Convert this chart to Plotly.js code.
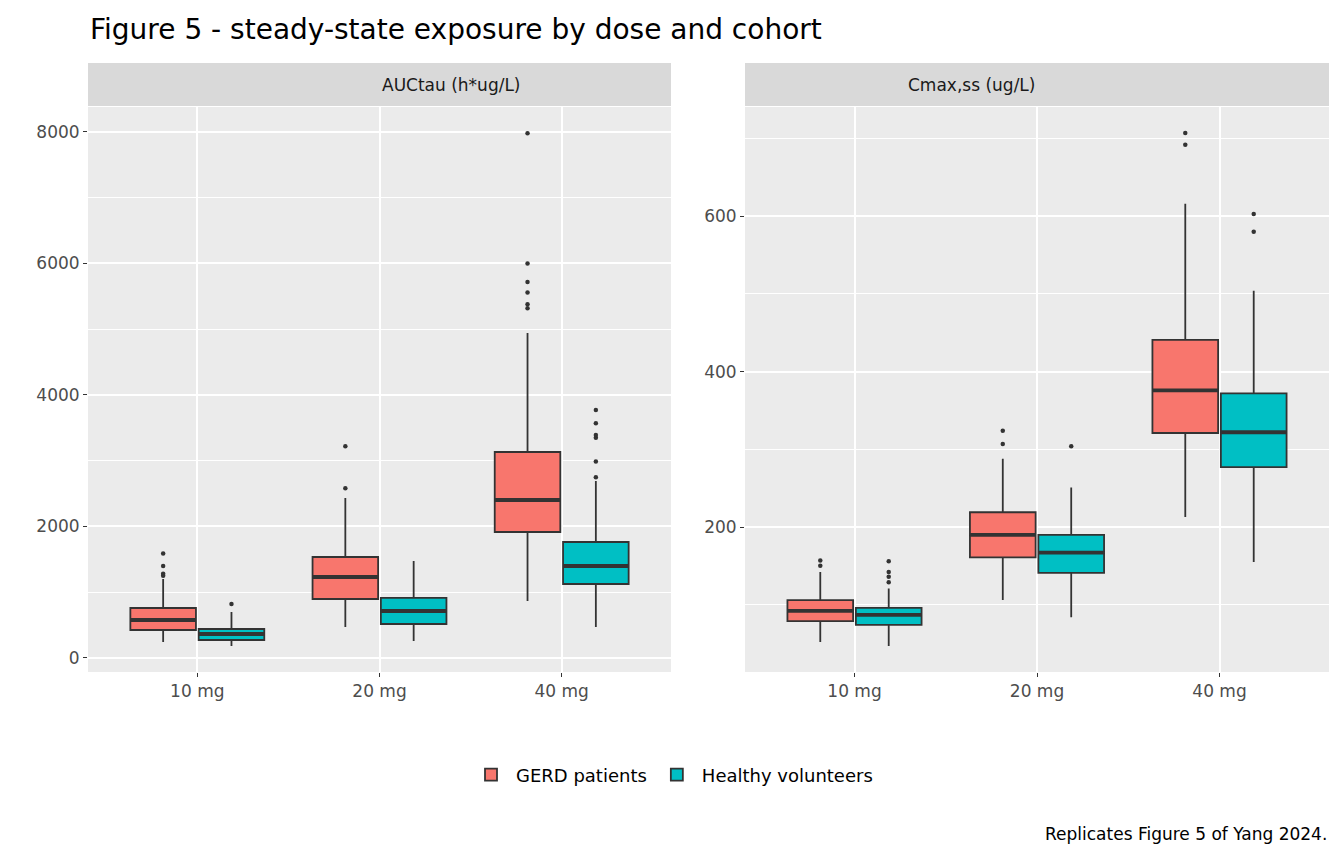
<!DOCTYPE html>
<html><head><meta charset="utf-8">
<script src="https://cdn.plot.ly/plotly-3.0.1.min.js"></script>
<style>body{margin:0}</style></head><body>
<div id="plot" style="width:1344px;height:864px"></div>
<script>
const doses = ["10 mg","20 mg","40 mg"];
const groups = ["GERD patients","Healthy volunteers"];
const colors = ["#F8766D","#00BFC4"];
// AUCtau
const aucGERD = {lo:[243,471,867], q1:[426,897,1916], med:[578,1232,2403], q3:[760,1536,3133], hi:[1200,2433,4943]};
const aucHV   = {lo:[182,259,471], q1:[274,517,1125], med:[365,715,1399], q3:[441,913,1764], hi:[700,1475,2692]};
const aucGERDout = [[1590,1400,1280,1250],[3220,2580],[7980,6000,5720,5560,5380,5320]];
const aucHVout   = [[820],[],[2750,2990,3350,3390,3570,3770]];
// Cmax,ss
const cmaxGERD = {lo:[52,106,213], q1:[79,161,321], med:[92,190,376], q3:[106,219,441], hi:[142,288,616]};
const cmaxHV   = {lo:[47,84,155], q1:[74,141,277], med:[87,167,322], q3:[96,190,372], hi:[121,251,504]};
const cmaxGERDout = [[157,150],[324,307],[707,692]];
const cmaxHVout   = [[156,142,136,129],[304],[603,580]];

const W = 0.36, OFF = 0.1875;
const traces = [];
function addSet(s, out, g, xa, ya, show){
  const off = g===0 ? -OFF : OFF;
  const xs = doses.map((d,i)=>i+1+off);
  traces.push({type:'box', name:groups[g], legendgroup:groups[g], showlegend:show,
    x:xs, q1:s.q1, median:s.med, q3:s.q3, lowerfence:s.lo, upperfence:s.hi,
    width:W, boxpoints:false, fillcolor:colors[g], line:{color:'#333333',width:1.8},
    whiskerwidth:0, xaxis:xa, yaxis:ya, hoverinfo:'skip'});
  const mx=[], my=[];
  xs.forEach((x,i)=>{mx.push(x-W/2,x+W/2,null); my.push(s.med[i],s.med[i],null);});
  traces.push({type:'scatter', mode:'lines', x:mx, y:my, line:{color:'#333333',width:3.8},
    showlegend:false, xaxis:xa, yaxis:ya, hoverinfo:'skip'});
  const ox=[], oy=[];
  out.forEach((arr,i)=>arr.forEach(v=>{ox.push(xs[i]); oy.push(v);}));
  traces.push({type:'scatter', mode:'markers', x:ox, y:oy, marker:{color:'#333333',size:4.5},
    showlegend:false, xaxis:xa, yaxis:ya, hoverinfo:'skip'});
}
addSet(aucGERD, aucGERDout, 0, 'x','y', true);
addSet(aucHV, aucHVout, 1, 'x','y', true);
addSet(cmaxGERD, cmaxGERDout, 0, 'x2','y2', false);
addSet(cmaxHV, cmaxHVout, 1, 'x2','y2', false);

const FF = 'DejaVu Sans, Verdana, sans-serif';
const font = {family:FF, color:'#4D4D4D', size:17};
const xax = d => ({domain:d, range:[0.4,3.6], tickvals:[1,2,3], ticktext:doses, showgrid:true,
  gridcolor:'#FFFFFF', gridwidth:2, zeroline:false, ticks:'outside', ticklen:4, tickcolor:'#333333',
  tickfont:font, fixedrange:true});
const yd = [1-672/864, 1-107/864];
const yax = (anchor, range, dtick, minor) => ({domain:yd, anchor:anchor, range:range, dtick:dtick,
  showgrid:true, gridcolor:'#FFFFFF', gridwidth:2, zeroline:false, ticks:'outside', ticklen:4,
  tickcolor:'#333333', tickfont:font,
  minor:{dtick:minor, showgrid:true, gridcolor:'#FFFFFF', gridwidth:1}});
const layout = {
  width:1344, height:864, margin:{l:0,r:0,t:0,b:0},
  paper_bgcolor:'#FFFFFF', plot_bgcolor:'#EBEBEB',
  xaxis: Object.assign(xax([88/1344, 671/1344]), {anchor:'y'}),
  xaxis2: Object.assign(xax([745/1344, 1329/1344]), {anchor:'y2'}),
  yaxis: yax('x', [-213, 8380], 2000, 1000),
  yaxis2: yax('x2', [13.4, 740.6], 200, 100),
  boxmode:'overlay',
  showlegend:true,
  legend:{orientation:'h', x:0.5, xanchor:'center', y:1-775/864, yanchor:'middle', itemwidth:40,
    font:{family:FF, size:18, color:'#000000'}},
  shapes:[
    {type:'rect', xref:'paper', yref:'paper', x0:88/1344, x1:671/1344, y0:1-106/864, y1:1-63/864, fillcolor:'#D9D9D9', line:{width:0}},
    {type:'rect', xref:'paper', yref:'paper', x0:745/1344, x1:1329/1344, y0:1-106/864, y1:1-63/864, fillcolor:'#D9D9D9', line:{width:0}}
  ],
  annotations:[
    {xref:'paper', yref:'paper', x:88/1344, y:1-30/864, xanchor:'left', yanchor:'middle', showarrow:false,
     text:'Figure 5 - steady-state exposure by dose and cohort', font:{family:FF, size:28, color:'#000000'}},
    {xref:'paper', yref:'paper', x:(88+671)/2/1344, y:1-85/864, showarrow:false, yanchor:'middle',
     text:'AUCtau (h*ug/L)', font:{family:FF, size:17, color:'#1A1A1A'}},
    {xref:'paper', yref:'paper', x:(745+1329)/2/1344, y:1-85/864, showarrow:false, yanchor:'middle',
     text:'Cmax,ss (ug/L)', font:{family:FF, size:17, color:'#1A1A1A'}},
    {xref:'paper', yref:'paper', x:1329/1344, y:1-834/864, xanchor:'right', yanchor:'middle', showarrow:false,
     text:'Replicates Figure 5 of Yang 2024.', font:{family:FF, size:17, color:'#000000'}}
  ]
};
Plotly.newPlot('plot', traces, layout, {staticPlot:true});
</script></body></html>
